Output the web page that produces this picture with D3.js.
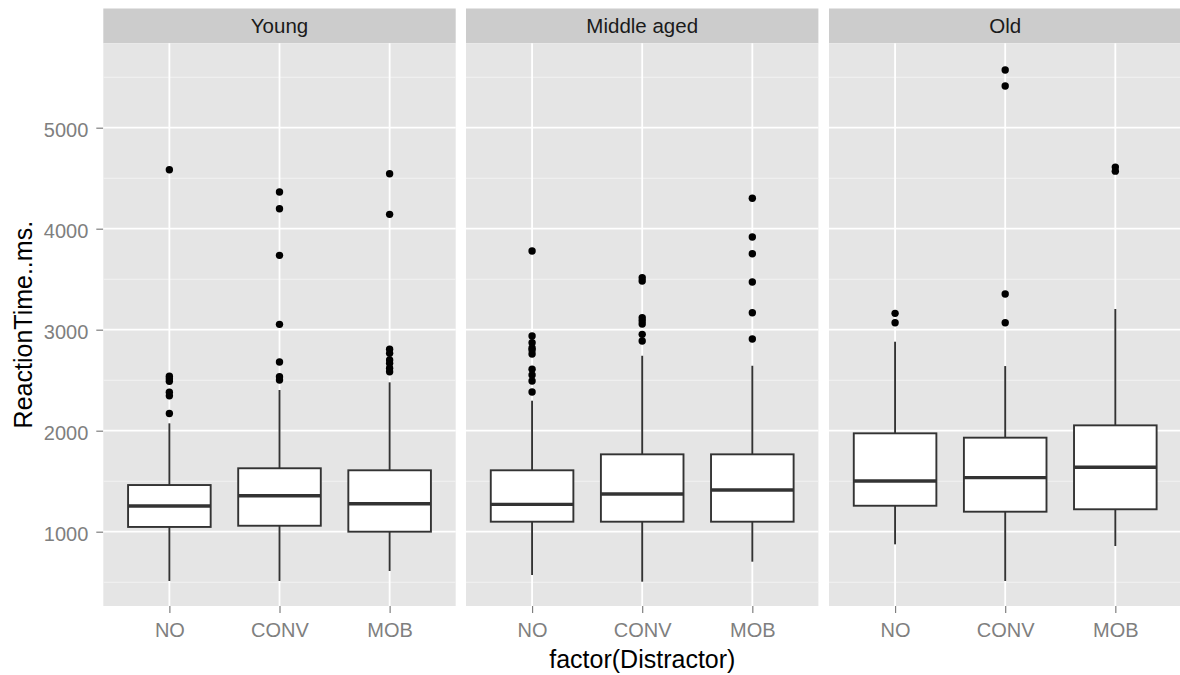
<!DOCTYPE html>
<html><head><meta charset="utf-8">
<script src="https://cdn.jsdelivr.net/npm/d3@7"></script>
<style>body{margin:0;background:#fff;}svg{display:block;font-family:"Liberation Sans",Arial,sans-serif;}</style>
</head><body>
<svg id="chart" width="1180" height="675"></svg>
<script>
const ageGroups = ["Young", "Middle aged", "Old"];
const categories = ["NO", "CONV", "MOB"];
const yTicks = [1000, 2000, 3000, 4000, 5000];
const yMinorTicks = [500, 1500, 2500, 3500, 4500, 5500];

// per age group, per distractor: [lowerWhisker, Q1, median, Q3, upperWhisker]
const youngStats = [[512, 1047, 1254, 1462, 2073], [512, 1059, 1356, 1628, 2403], [611, 1000, 1277, 1608, 2479]];
const middleStats = [[571, 1099, 1271, 1608, 2297], [505, 1099, 1373, 1766, 2742], [703, 1099, 1413, 1766, 2643]];
const oldStats = [[875, 1257, 1502, 1974, 2881], [512, 1198, 1535, 1931, 2640], [858, 1222, 1638, 2053, 3205]];

const youngOutliers = [
  [4584, 2540, 2515, 2490, 2380, 2345, 2170],
  [4363, 4198, 3736, 3053, 2680, 2535, 2502],
  [4544, 4142, 2806, 2766, 2700, 2667, 2618, 2584]
];
const middleOutliers = [
  [3779, 2937, 2871, 2820, 2799, 2759, 2608, 2551, 2492, 2383],
  [3515, 3482, 3119, 3089, 3056, 2954, 2888],
  [4301, 3918, 3752, 3472, 3168, 2908]
];
const oldOutliers = [
  [3162, 3069],
  [5571, 5413, 3353, 3069],
  [4610, 4570]
];

const statsByGroup = [youngStats, middleStats, oldStats];
const outliersByGroup = [youngOutliers, middleOutliers, oldOutliers];

const svg = d3.select("#chart");
const panelTop = 43.3, panelBottom = 606, stripTop = 8.5;
const panelLefts = [103.3, 466, 829];
const panelW = 352.4;

const y = d3.scaleLinear().domain([1000, 5000]).range([531.7, 127.7]);

// Y axis (left)
const yAxisG = svg.append("g").attr("transform", `translate(${panelLefts[0]},0)`);
yAxisG.call(d3.axisLeft(y).tickValues(yTicks).tickSize(7).tickPadding(8).tickFormat(d3.format("d")));
yAxisG.select(".domain").remove();
yAxisG.selectAll(".tick line").attr("stroke", "#7f7f7f").attr("stroke-width", 1.2);
yAxisG.selectAll(".tick text").attr("fill", "#7f7f7f").attr("font-size", 20).attr("dy", "0.42em")
  .attr("font-family", "Liberation Sans, Arial, sans-serif");

ageGroups.forEach((grp, gi) => {
  const left = panelLefts[gi];
  const x = d3.scalePoint().domain(categories).range([left, left + panelW]).padding(0.6);
  const bw = x.step() * 0.75;
  const g = svg.append("g");

  // strip
  g.append("rect").attr("x", left).attr("y", stripTop).attr("width", panelW).attr("height", panelTop - stripTop).attr("fill", "#cccccc");
  g.append("text").attr("x", left + panelW / 2).attr("y", (stripTop + panelTop) / 2).attr("dy", "0.36em")
    .attr("text-anchor", "middle").attr("font-size", 20.5).attr("fill", "#1a1a1a").text(grp);

  // panel
  g.append("rect").attr("x", left).attr("y", panelTop).attr("width", panelW).attr("height", panelBottom - panelTop).attr("fill", "#e5e5e5");
  g.selectAll(".minor").data(yMinorTicks).join("line")
    .attr("x1", left).attr("x2", left + panelW).attr("y1", d => y(d)).attr("y2", d => y(d))
    .attr("stroke", "#f2f2f2").attr("stroke-width", 1.1);
  g.selectAll(".major").data(yTicks).join("line")
    .attr("x1", left).attr("x2", left + panelW).attr("y1", d => y(d)).attr("y2", d => y(d))
    .attr("stroke", "#ffffff").attr("stroke-width", 1.8);
  g.selectAll(".vmajor").data(categories).join("line")
    .attr("x1", d => x(d)).attr("x2", d => x(d)).attr("y1", panelTop).attr("y2", panelBottom)
    .attr("stroke", "#ffffff").attr("stroke-width", 1.8);

  // x axis
  const xg = svg.append("g").attr("transform", `translate(0,${panelBottom})`);
  xg.call(d3.axisBottom(x).tickSize(7).tickPadding(10));
  xg.select(".domain").remove();
  xg.selectAll(".tick line").attr("stroke", "#7f7f7f").attr("stroke-width", 1.2);
  xg.selectAll(".tick text").attr("fill", "#7f7f7f").attr("font-size", 20).attr("dy", "0.72em")
    .attr("font-family", "Liberation Sans, Arial, sans-serif");

  const st = statsByGroup[gi];
  const outs = outliersByGroup[gi];
  categories.forEach((c, ci) => {
    const [lw, q1, med, q3, uw] = st[ci];
    const cx = x(c);
    const bg = g.append("g");
    bg.append("line").attr("x1", cx).attr("x2", cx).attr("y1", y(q3)).attr("y2", y(uw)).attr("stroke", "#333333").attr("stroke-width", 1.9);
    bg.append("line").attr("x1", cx).attr("x2", cx).attr("y1", y(q1)).attr("y2", y(lw)).attr("stroke", "#333333").attr("stroke-width", 1.9);
    bg.append("rect").attr("x", cx - bw / 2).attr("y", y(q3)).attr("width", bw).attr("height", y(q1) - y(q3))
      .attr("fill", "#ffffff").attr("stroke", "#333333").attr("stroke-width", 1.9);
    bg.append("line").attr("x1", cx - bw / 2).attr("x2", cx + bw / 2).attr("y1", y(med)).attr("y2", y(med))
      .attr("stroke", "#333333").attr("stroke-width", 3.4);
    bg.selectAll("circle").data(outs[ci]).join("circle")
      .attr("cx", cx).attr("cy", d => y(d)).attr("r", 3.7).attr("fill", "#000000");
  });
});

// axis titles
svg.append("text").attr("x", (panelLefts[0] + panelLefts[2] + panelW) / 2).attr("y", 668)
  .attr("text-anchor", "middle").attr("font-size", 25).attr("fill", "#000").text("factor(Distractor)");
svg.append("text").attr("transform", `translate(31.5,${(panelTop + panelBottom) / 2}) rotate(-90)`)
  .attr("text-anchor", "middle").attr("font-size", 25).attr("fill", "#000").text("ReactionTime..ms.");
</script>
</body></html>
